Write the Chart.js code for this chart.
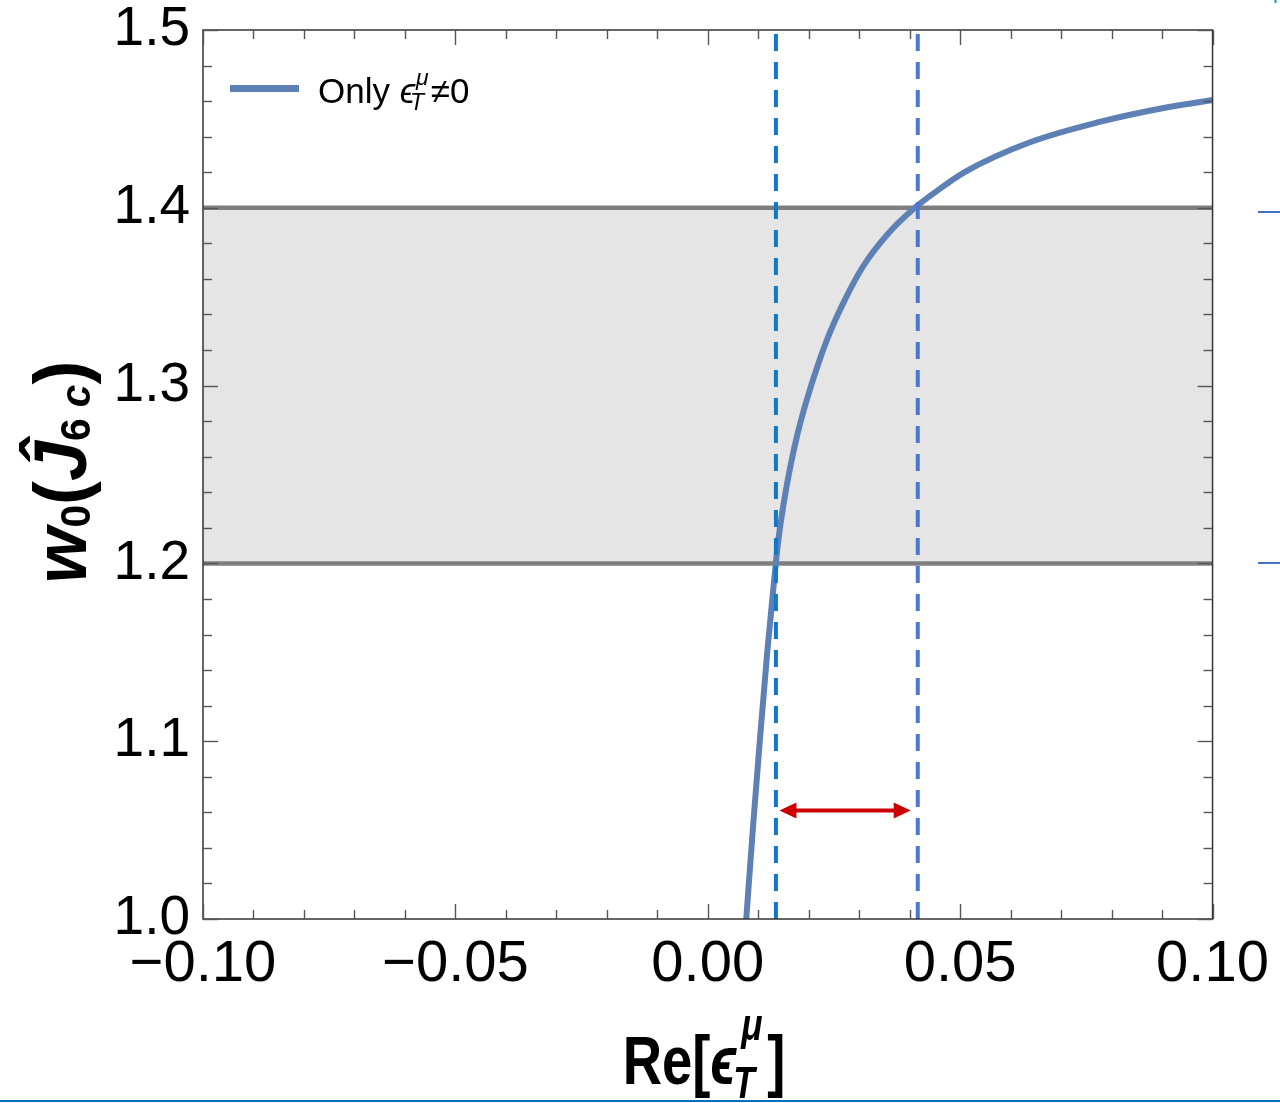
<!DOCTYPE html>
<html><head><meta charset="utf-8">
<script src="https://cdn.jsdelivr.net/npm/chart.js@4.4.0/dist/chart.umd.min.js"></script>
<style>html,body{margin:0;padding:0;background:#fff;}#wrap{width:1280px;height:1103px;}</style>
</head><body><div id="wrap"><canvas id="c" width="1280" height="1103"></canvas></div>
<script>
// ---- data ----
const curveX = [0.00762, 0.00891, 0.01030, 0.01178, 0.01347, 0.01416, 0.01515, 0.01634, 0.01782, 0.01960, 0.02168, 0.02416, 0.02713, 0.03069, 0.03584, 0.04119, 0.04535, 0.05089, 0.06396, 0.07762, 0.09083, 0.1];
const curveY = [1.0, 1.050, 1.100, 1.150, 1.200, 1.2171, 1.2357, 1.2542, 1.2733, 1.2919, 1.3105, 1.3296, 1.3481, 1.3667, 1.3858, 1.4004, 1.4094, 1.4201, 1.4370, 1.4483, 1.4564, 1.4606];
const bandLow = 1.2;
const bandHigh = 1.4;
const xRange = [-0.1, 0.1];
const yRange = [1.0, 1.5];
const dashX = [0.0135, 0.0416];
const arrowX = [0.0142, 0.0402];
const arrowY = 1.061;
const xMajorTicks = [-0.1, -0.05, 0, 0.05, 0.1];
const xMinorTicks = [-0.09, -0.08, -0.07, -0.06, -0.04, -0.03, -0.02, -0.01, 0.01, 0.02, 0.03, 0.04, 0.06, 0.07, 0.08, 0.09];
const yMajorTicks = [1.0, 1.1, 1.2, 1.3, 1.4, 1.5];
const yMinorTicks = [1.02, 1.04, 1.06, 1.08, 1.12, 1.14, 1.16, 1.18, 1.22, 1.24, 1.26, 1.28, 1.32, 1.34, 1.36, 1.38, 1.42, 1.44, 1.46, 1.48];
const legendLabel = ['Only ', 'ϵ', 'T', 'μ', '≠0'];

// ---- styles ----
const FAM = '"Liberation Sans", Arial, "DejaVu Sans", sans-serif';
const curveColor = '#5e81b5';
const fmtX = v => { if (Math.abs(v) < 1e-9) return '0.00'; const s = Math.abs(v).toFixed(2); return v < 0 ? '\u2212' + s : s; };
const fmtY = v => v.toFixed(1);

function line(ctx, x1, y1, x2, y2) { ctx.beginPath(); ctx.moveTo(x1, y1); ctx.lineTo(x2, y2); ctx.stroke(); }

const decor = {
  id: 'decor',
  afterDraw(chart) {
    const ctx = chart.ctx, a = chart.chartArea, xs = chart.scales.x, ys = chart.scales.y;
    ctx.save();
    // arrow
    const ay = ys.getPixelForValue(arrowY);
    const ax1 = xs.getPixelForValue(arrowX[0]), ax2 = xs.getPixelForValue(arrowX[1]);
    ctx.strokeStyle = '#cc0000'; ctx.fillStyle = '#cc0000'; ctx.lineWidth = 4;
    line(ctx, ax1 + 12, ay, ax2 - 12, ay);
    ctx.beginPath(); ctx.moveTo(ax1, ay); ctx.lineTo(ax1 + 17, ay - 8); ctx.lineTo(ax1 + 17, ay + 8); ctx.closePath(); ctx.fill();
    ctx.beginPath(); ctx.moveTo(ax2, ay); ctx.lineTo(ax2 - 17, ay - 8); ctx.lineTo(ax2 - 17, ay + 8); ctx.closePath(); ctx.fill();

    // frame
    ctx.strokeStyle = '#333'; ctx.lineWidth = 1.5;
    ctx.strokeRect(a.left, a.top, a.right - a.left, a.bottom - a.top);
    // ticks
    ctx.strokeStyle = '#555'; ctx.lineWidth = 1.4;
    const tx = (vals, len) => vals.forEach(v => { const p = Math.round(xs.getPixelForValue(v)) + 0.5; line(ctx, p, a.bottom, p, a.bottom - len); line(ctx, p, a.top, p, a.top + len); });
    const ty = (vals, len) => vals.forEach(v => { const p = Math.round(ys.getPixelForValue(v)) + 0.5; line(ctx, a.left, p, a.left + len, p); line(ctx, a.right, p, a.right - len, p); });
    tx(xMajorTicks, 15); tx(xMinorTicks, 9); ty(yMajorTicks, 15); ty(yMinorTicks, 9);

    // legend
    ctx.strokeStyle = curveColor; ctx.lineWidth = 7;
    line(ctx, 230, 88.5, 299, 88.5);
    ctx.fillStyle = '#000'; ctx.textBaseline = 'alphabetic'; ctx.textAlign = 'left';
    let lx = 318;
    ctx.font = '35px ' + FAM; ctx.fillText(legendLabel[0], lx, 103); lx += ctx.measureText(legendLabel[0]).width;
    ctx.font = 'italic 35px ' + FAM; ctx.fillText(legendLabel[1], lx, 103); lx += ctx.measureText(legendLabel[1]).width;
    ctx.font = 'italic 23px ' + FAM;
    ctx.fillText(legendLabel[2], lx - 5, 110);
    ctx.fillText(legendLabel[3], lx + 1, 85);
    lx += Math.max(ctx.measureText(legendLabel[2]).width - 5, ctx.measureText(legendLabel[3]).width + 1) + 2;
    ctx.font = '35px ' + FAM; ctx.fillText(legendLabel[4], lx, 103);

    // x title
    {
      const F = 68, sx = 0.8, S = 44;
      const fB = 'bold ' + F + 'px ' + FAM, fI = 'italic bold ' + F + 'px ' + FAM, fS = 'italic bold ' + S + 'px ' + FAM;
      ctx.font = fB; const wRe = ctx.measureText('Re[').width, wBr = ctx.measureText(']').width;
      ctx.font = fI; const wE = ctx.measureText('ϵ').width;
      ctx.font = fS; const wMu = ctx.measureText('μ').width, wT = ctx.measureText('T').width;
      const wSS = Math.max(wMu + 6, wT) + 6;
      const tot = wRe + wE + wSS + wBr;
      ctx.save();
      ctx.translate(704 - tot * sx / 2, 1084); ctx.scale(sx, 1);
      let x = 0;
      ctx.font = fB; ctx.fillText('Re[', x, 0); x += wRe;
      ctx.font = fI; ctx.fillText('ϵ', x, 0); x += wE;
      ctx.font = fS; ctx.fillText('μ', x + 6, -44); ctx.fillText('T', x - 4, 14); x += wSS;
      ctx.font = fB; ctx.fillText(']', x, 0);
      ctx.restore();
    }
    // y title
    {
      const F = 74, sx = 0.97, S = 42;
      const runs = [
        ['w', 'italic bold ' + F + 'px ' + FAM, 0],
        ['0', 'bold ' + S + 'px ' + FAM, 4],
        ['(', 'bold ' + F + 'px ' + FAM, 0],
        ['\u0134', 'italic bold ' + F + 'px ' + FAM, 0],
        ['6', 'bold ' + S + 'px ' + FAM, 4],
        [' c', 'italic bold ' + S + 'px ' + FAM, 4],
        [')', 'bold ' + F + 'px ' + FAM, 0]
      ];
      let tot = 0; const ws = runs.map(r => { ctx.font = r[1]; const w = ctx.measureText(r[0]).width; tot += w; return w; });
      ctx.save();
      ctx.translate(86, 472); ctx.rotate(-Math.PI / 2); ctx.scale(sx, 1);
      let x = -tot / 2;
      runs.forEach((r, i) => { ctx.font = r[1]; ctx.fillText(r[0], x, r[2]); x += ws[i]; });
      ctx.restore();
    }
    // edge remnants
    ctx.strokeStyle = '#0070c0'; ctx.lineWidth = 2;
    line(ctx, 0, 1101, 1280, 1101);
    ctx.strokeStyle = '#4472c4';
    line(ctx, 1258, 212, 1280, 212); line(ctx, 1258, 563, 1280, 563);
    ctx.strokeStyle = '#1f8fe0'; line(ctx, 1275.5, 0, 1275.5, 3);
    ctx.restore();
  }
};

const pts = (xsArr, ysArr) => xsArr.map((x, i) => ({ x, y: ysArr[i] }));

new Chart(document.getElementById('c'), {
  type: 'line',
  data: {
    datasets: [
      { label: 'dash1', data: [{ x: dashX[0], y: yRange[0] }, { x: dashX[0], y: yRange[1] }], borderColor: '#1177c8', borderWidth: 4, borderDash: [17, 11], pointRadius: 0, fill: false, order: 0 },
      { label: 'dash2', data: [{ x: dashX[1], y: yRange[0] }, { x: dashX[1], y: yRange[1] }], borderColor: '#4a78cc', borderWidth: 4, borderDash: [17, 11], pointRadius: 0, fill: false, order: 0 },
      { label: 'Only', data: pts(curveX, curveY), borderColor: curveColor, borderWidth: 6, pointRadius: 0, cubicInterpolationMode: 'monotone', fill: false, order: 1 },
      { label: 'bandHigh', data: [{ x: xRange[0], y: bandHigh }, { x: xRange[1], y: bandHigh }], borderColor: '#7f7f7f', borderWidth: 4.5, pointRadius: 0, fill: false, order: 2 },
      { label: 'bandLow', data: [{ x: xRange[0], y: bandLow }, { x: xRange[1], y: bandLow }], borderColor: '#7f7f7f', borderWidth: 4.5, pointRadius: 0, fill: '-1', backgroundColor: '#e5e5e5', order: 3 }
    ]
  },
  options: {
    responsive: false, animation: false, devicePixelRatio: 1,
    layout: { padding: { top: 30, right: 67, left: 0, bottom: 0 } },
    plugins: { legend: { display: false }, tooltip: { enabled: false } },
    scales: {
      x: {
        type: 'linear', min: xRange[0], max: xRange[1],
        afterBuildTicks: s => { s.ticks = xMajorTicks.map(v => ({ value: v })); },
        afterFit: s => { s.height = 184; },
        grid: { display: false, drawTicks: false }, border: { display: false },
        ticks: { callback: v => fmtX(v), color: '#000', font: { family: FAM, size: 58 }, padding: 11, maxRotation: 0, autoSkip: false }
      },
      y: {
        type: 'linear', min: yRange[0], max: yRange[1],
        afterBuildTicks: s => { s.ticks = yMajorTicks.map(v => ({ value: v })); },
        afterFit: s => { s.width = 203; },
        grid: { display: false, drawTicks: false }, border: { display: false },
        ticks: { callback: v => fmtY(v), color: '#000', font: { family: FAM, size: 55, lineHeight: 0.5 }, padding: 13, autoSkip: false }
      }
    }
  },
  plugins: [decor]
});
</script></body></html>
